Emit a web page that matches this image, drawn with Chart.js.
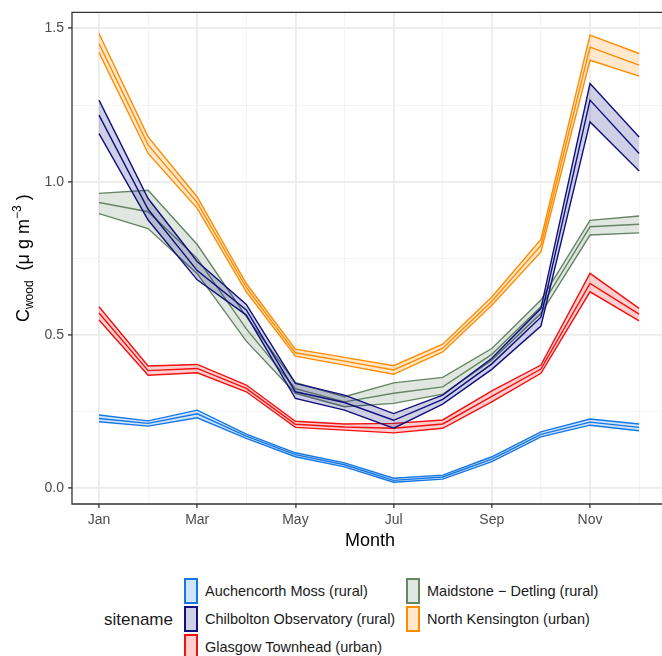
<!DOCTYPE html>
<html>
<head>
<meta charset="utf-8">
<script src="https://cdn.jsdelivr.net/npm/chart.js@4"></script>
<style>
  body { margin: 0; background: #fff; font-family: "Liberation Sans", Arial, sans-serif; }
  #wrap { position: relative; width: 662px; height: 656px; overflow: hidden; }
  #plot { position: absolute; left: 0; top: 0; }
  .legtitle { position: absolute; left: 104px; top: 610px; font-size: 17px; color: #1a1a1a; }
  .key { position: absolute; width: 10px; height: 22px; border: 2px solid; }
  .lab { position: absolute; font-size: 14.5px; color: #1a1a1a; line-height: 16px; }
</style>
</head>
<body>
<div id="wrap">
  <canvas id="plot" width="662" height="560"></canvas>
  <div id="legend"></div>
</div>
<script>
const months = [1, 2, 3, 4, 5, 6, 7, 8, 9, 10, 11, 12];
const monthLabels = ['Jan', '', 'Mar', '', 'May', '', 'Jul', '', 'Sep', '', 'Nov', ''];
const siteNames = ['Auchencorth Moss (rural)', 'Chilbolton Observatory (rural)', 'Glasgow Townhead (urban)',
                   'Maidstone \u2212 Detling (rural)', 'North Kensington (urban)'];

// Auchencorth Moss
const aucHi   = [0.239, 0.220, 0.255, 0.177, 0.116, 0.083, 0.033, 0.043, 0.103, 0.184, 0.226, 0.210];
const aucMean = [0.228, 0.212, 0.243, 0.170, 0.110, 0.077, 0.026, 0.037, 0.095, 0.176, 0.216, 0.199];
const aucLo   = [0.217, 0.203, 0.230, 0.163, 0.103, 0.070, 0.020, 0.030, 0.087, 0.168, 0.206, 0.188];
// Chilbolton Observatory
const chiHi   = [1.266, 0.945, 0.740, 0.600, 0.342, 0.304, 0.244, 0.304, 0.424, 0.587, 1.320, 1.146];
const chiMean = [1.217, 0.910, 0.710, 0.582, 0.315, 0.280, 0.222, 0.290, 0.406, 0.558, 1.266, 1.092];
const chiLo   = [1.157, 0.875, 0.680, 0.565, 0.293, 0.255, 0.196, 0.275, 0.388, 0.529, 1.195, 1.035];
// Glasgow Townhead
const glaHi   = [0.592, 0.399, 0.404, 0.337, 0.219, 0.210, 0.212, 0.223, 0.318, 0.402, 0.701, 0.587];
const glaMean = [0.572, 0.384, 0.391, 0.326, 0.209, 0.200, 0.196, 0.210, 0.300, 0.389, 0.668, 0.568];
const glaLo   = [0.549, 0.369, 0.377, 0.315, 0.199, 0.190, 0.181, 0.196, 0.282, 0.375, 0.641, 0.546];
// Maidstone - Detling
const maiHi   = [0.962, 0.972, 0.795, 0.560, 0.345, 0.299, 0.344, 0.362, 0.456, 0.614, 0.874, 0.888];
const maiMean = [0.932, 0.902, 0.750, 0.520, 0.325, 0.282, 0.310, 0.331, 0.437, 0.592, 0.853, 0.861];
const maiLo   = [0.896, 0.847, 0.700, 0.480, 0.310, 0.266, 0.277, 0.307, 0.418, 0.570, 0.826, 0.833];
// North Kensington
const nkHi    = [1.483, 1.146, 0.950, 0.668, 0.454, 0.427, 0.400, 0.470, 0.624, 0.812, 1.478, 1.418];
const nkMean  = [1.450, 1.120, 0.932, 0.655, 0.442, 0.415, 0.386, 0.457, 0.610, 0.792, 1.439, 1.380];
const nkLo    = [1.421, 1.092, 0.913, 0.641, 0.431, 0.402, 0.372, 0.445, 0.597, 0.771, 1.396, 1.344];

const yTicks = [0, 0.25, 0.5, 0.75, 1.0, 1.25, 1.5];

const colors = ['#1577e6', '#10107e', '#f51010', '#658565', '#ff8c00'];
const fills  = ['rgba(21,119,230,0.2)', 'rgba(16,16,126,0.2)', 'rgba(245,16,16,0.2)', 'rgba(101,133,101,0.2)', 'rgba(255,140,0,0.2)'];
const bands = [[aucLo, aucMean, aucHi], [chiLo, chiMean, chiHi], [glaLo, glaMean, glaHi],
               [maiLo, maiMean, maiHi], [nkLo, nkMean, nkHi]];

function pts(arr) {
    return arr.map((v, i) => ({ x: months[i], y: v }));
}

let datasets = [];
bands.forEach((b, s) => {
    ['lo', 'mean', 'hi'].forEach((k, j) => {
        datasets.push({
            label: siteNames[s] + ' ' + k,
            data: pts(b[j]),
            borderColor: colors[s],
            borderWidth: 1.4,
            pointRadius: 0,
            tension: 0,
            backgroundColor: fills[s],
            fill: j === 2 ? '-2' : false
        });
    });
});

// draws panel border and axis titles
const extras = {
    id: 'extras',
    afterDraw(chart) {
        const c = chart.ctx, a = chart.chartArea;
        c.save();
        c.strokeStyle = '#333333';
        c.lineWidth = 1.3;
        c.beginPath();
        c.moveTo(a.right + 2, a.top); c.lineTo(a.left, a.top);
        c.lineTo(a.left, a.bottom); c.lineTo(a.right + 2, a.bottom);
        c.stroke();

        c.fillStyle = '#000';
        c.font = '18px "Liberation Sans", Arial, sans-serif';
        c.textAlign = 'center';
        c.textBaseline = 'alphabetic';
        c.fillText('Month', 370, 546);

        // y title with sub/superscript
        const big = '18px "Liberation Sans", Arial, sans-serif';
        const small = '12px "Liberation Sans", Arial, sans-serif';
        const parts = [['C', big, 0], ['wood', small, 4], ['  (\u03bc g m', big, 0], ['\u22123', small, -8], [' )', big, 0]];
        let total = 0;
        parts.forEach(p => { c.font = p[1]; total += c.measureText(p[0]).width; });
        c.translate(22, (a.top + a.bottom) / 2);
        c.rotate(-Math.PI / 2);
        c.textAlign = 'left';
        let x = -total / 2;
        parts.forEach(p => {
            c.font = p[1];
            c.fillText(p[0], x, 7 + p[2]);
            x += c.measureText(p[0]).width;
        });
        c.restore();
    }
};

const ctx = document.getElementById('plot').getContext('2d');
const chart = new Chart(ctx, {
    type: 'line',
    data: { datasets: datasets },
    options: {
        responsive: false,
        animation: false,
        layout: { padding: { top: 12, right: 0, left: 0, bottom: 0 } },
        plugins: {
            legend: { display: false },
            tooltip: { enabled: false }
        },
        scales: {
            x: {
                type: 'linear',
                min: 0.45,
                max: 12.466,
                afterBuildTicks: (s) => { s.ticks = months.map(v => ({ value: v })); },
                afterFit: (s) => { s.height = 56; },
                grid: {
                    color: (c) => (c.tick && c.tick.value % 2 === 1) ? '#ebebeb' : '#f4f4f4',
                    lineWidth: (c) => (c.tick && c.tick.value % 2 === 1) ? 1.8 : 1,
                    tickColor: (c) => (c.tick && c.tick.value % 2 === 1) ? '#333333' : 'rgba(0,0,0,0)',
                    tickLength: 4,
                    tickWidth: 1.3
                },
                border: { display: false },
                ticks: {
                    autoSkip: false,
                    maxRotation: 0,
                    padding: 4,
                    color: '#4d4d4d',
                    font: { family: '"Liberation Sans", Arial, sans-serif', size: 14 },
                    callback: (v) => monthLabels[months.indexOf(v)]
                }
            },
            y: {
                type: 'linear',
                min: -0.051,
                max: 1.552,
                afterBuildTicks: (s) => { s.ticks = yTicks.map(v => ({ value: v })); },
                afterFit: (s) => { s.width = 72; },
                grid: {
                    color: (c) => (c.tick && Math.round(c.tick.value * 4) % 2 === 0) ? '#ebebeb' : '#f4f4f4',
                    lineWidth: (c) => (c.tick && Math.round(c.tick.value * 4) % 2 === 0) ? 1.8 : 1,
                    tickColor: (c) => (c.tick && Math.round(c.tick.value * 4) % 2 === 0) ? '#333333' : 'rgba(0,0,0,0)',
                    tickLength: 4,
                    tickWidth: 1.3
                },
                border: { display: false },
                ticks: {
                    padding: 4,
                    color: '#4d4d4d',
                    font: { family: '"Liberation Sans", Arial, sans-serif', size: 14 },
                    callback: (v) => (Math.round(v * 4) % 2 === 0) ? v.toFixed(1) : ''
                }
            }
        }
    },
    plugins: [extras]
});

// legend below the plot, two columns like ggplot
const leg = document.getElementById('legend');
let html = '<div class="legtitle">sitename</div>';
siteNames.forEach((name, i) => {
    const col = i < 3 ? 0 : 1;
    const row = i < 3 ? i : i - 3;
    const kx = col === 0 ? 184 : 406;
    const ky = 578 + row * 28;
    html += '<div class="key" style="left:' + kx + 'px;top:' + ky + 'px;border-color:' + colors[i] +
            ';background:' + fills[i] + '"></div>';
    html += '<div class="lab" style="left:' + (kx + 21) + 'px;top:' + (ky + 5) + 'px">' + name + '</div>';
});
leg.innerHTML = html;
</script>
</body>
</html>
